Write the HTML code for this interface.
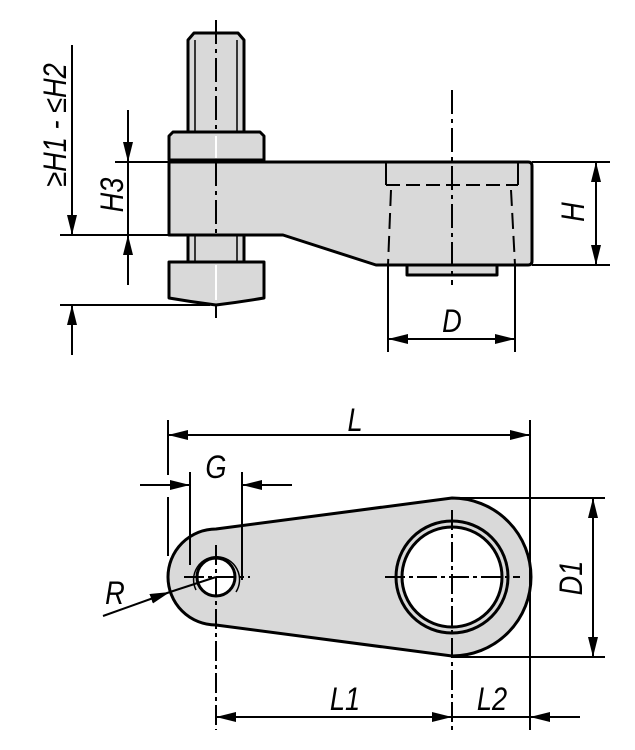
<!DOCTYPE html>
<html><head><style>body{margin:0;background:#fff}svg{display:block}text{font-family:"Liberation Sans",sans-serif;font-style:italic;font-size:32px;fill:#000}</style></head>
<body>
<svg width="635" height="750" viewBox="0 0 635 750" xmlns="http://www.w3.org/2000/svg">
<defs>
<marker id="a" viewBox="0 0 20 10" refX="20" refY="5" markerWidth="20" markerHeight="10" markerUnits="userSpaceOnUse" orient="auto"><path d="M0,0 L20,5 L0,10 Z" fill="#000"/></marker>
</defs>
<g fill="#d9d9d9" stroke="#000" stroke-width="3" stroke-linejoin="round">
<path d="M188,132 L188,40 L194,33 L238,33 L244,40 L244,132"/>
<line x1="195" y1="40" x2="195" y2="132" stroke-width="1.5"/>
<line x1="237" y1="40" x2="237" y2="132" stroke-width="1.5"/>
<rect x="188" y="235" width="56" height="27"/>
<line x1="195" y1="235" x2="195" y2="262" stroke-width="1.5"/>
<line x1="237" y1="235" x2="237" y2="262" stroke-width="1.5"/>
<path d="M169,160 L169,136 L173,132 L260,132 L264,136 L264,160 Z"/>
<path d="M169,262 L264,262 L264,298 Q240,302 216,305 Q192,302 169,298 Z"/>
<path d="M169,162 L528,162 Q532,162 532,166 L532,261 Q532,265 528,265 L376,265 L283,235 L169,235 Z"/>
<rect x="407" y="265" width="90" height="10"/>
</g>
<g stroke="#fff" stroke-width="2">
<line x1="216" y1="136" x2="216" y2="158"/>
<line x1="216" y1="265" x2="216" y2="300"/>
</g>
<g stroke="#000" fill="none" stroke-width="2">
<path d="M386,162 L386,185 M518,162 L518,185" />
<path d="M386,185 L518,185" stroke-dasharray="14,6"/>
<path d="M391,190 L388,265 M511,190 L515,265" stroke-dasharray="16,7"/>
</g>
<g stroke="#000" stroke-width="2" fill="none">
<path d="M216,20 L216,130 M216,162 L216,235 M216,305 L216,318" stroke-dasharray="24,5,4,5"/>
<path d="M452,90 L452,285" stroke-dasharray="24,5,4,5"/>
<line x1="72" y1="45" x2="72" y2="235" marker-end="url(#a)"/>
<line x1="72" y1="355" x2="72" y2="305" marker-end="url(#a)"/>
<line x1="60" y1="235" x2="169" y2="235"/>
<line x1="60" y1="305" x2="210" y2="305"/>
<line x1="128" y1="110" x2="128" y2="162" marker-end="url(#a)"/>
<line x1="128" y1="285" x2="128" y2="235" marker-end="url(#a)"/>
<line x1="128" y1="162" x2="128" y2="235"/>
<line x1="115" y1="162" x2="169" y2="162"/>
<line x1="532" y1="162" x2="610" y2="162"/>
<line x1="532" y1="265" x2="610" y2="265"/>
<line x1="596" y1="214" x2="596" y2="162" marker-end="url(#a)"/>
<line x1="596" y1="214" x2="596" y2="265" marker-end="url(#a)"/>
<line x1="388" y1="265" x2="388" y2="352"/>
<line x1="515" y1="265" x2="515" y2="352"/>
<line x1="452" y1="339" x2="388" y2="339" marker-end="url(#a)"/>
<line x1="452" y1="339" x2="515" y2="339" marker-end="url(#a)"/>
</g>
<text transform="translate(66,125) rotate(-90) scale(0.85,1)" text-anchor="middle">≥H1 - ≤H2</text>
<text transform="translate(123,195) rotate(-90) scale(0.85,1)" text-anchor="middle">H3</text>
<text transform="translate(584,212) rotate(-90) scale(0.85,1)" text-anchor="middle">H</text>
<text transform="translate(452,332) scale(0.85,1)" text-anchor="middle">D</text>

<path d="M216,529 L452,498 A79,79 0 0 1 452,656 L216,625 A48,48 0 0 1 216,529 Z" fill="#d9d9d9" stroke="#000" stroke-width="3"/>
<circle cx="216" cy="577" r="19" fill="#fff" stroke="#000" stroke-width="3"/>
<path d="M196,590 A23,23 0 1 1 236,592" fill="none" stroke="#000" stroke-width="1.5"/>
<circle cx="452" cy="577" r="56" fill="#d9d9d9" stroke="#000" stroke-width="3"/>
<circle cx="452" cy="577" r="50" fill="#fff" stroke="#000" stroke-width="3"/>
<g stroke="#000" stroke-width="2" fill="none">
<path d="M184,577 L250,577 M216,545 L216,730" stroke-dasharray="20,4,4,4"/>
<path d="M385,577 L520,577 M452,510 L452,730" stroke-dasharray="20,4,4,4"/>
<line x1="168" y1="420" x2="168" y2="475"/>
<line x1="168" y1="497" x2="168" y2="556"/>
<line x1="530" y1="420" x2="530" y2="730"/>
<line x1="350" y1="435" x2="168" y2="435" marker-end="url(#a)"/>
<line x1="350" y1="435" x2="530" y2="435" marker-end="url(#a)"/>
<line x1="190" y1="472" x2="190" y2="565"/>
<line x1="242" y1="472" x2="242" y2="580"/>
<line x1="140" y1="485" x2="190" y2="485" marker-end="url(#a)"/>
<line x1="292" y1="485" x2="242" y2="485" marker-end="url(#a)"/>
<line x1="452" y1="498" x2="605" y2="498"/>
<line x1="452" y1="657" x2="605" y2="657"/>
<line x1="593" y1="578" x2="593" y2="498" marker-end="url(#a)"/>
<line x1="593" y1="578" x2="593" y2="657" marker-end="url(#a)"/>
<line x1="103" y1="616" x2="170" y2="592" marker-end="url(#a)"/>
<line x1="170" y1="592" x2="216" y2="577"/>
<line x1="335" y1="717" x2="216" y2="717" marker-end="url(#a)"/>
<line x1="335" y1="717" x2="452" y2="717" marker-end="url(#a)"/>
<line x1="452" y1="717" x2="530" y2="717"/>
<line x1="580" y1="717" x2="530" y2="717" marker-end="url(#a)"/>
</g>
<text transform="translate(355,431) scale(0.85,1)" text-anchor="middle">L</text>
<text transform="translate(216,478) scale(0.85,1)" text-anchor="middle">G</text>
<text transform="translate(115,604) scale(0.85,1)" text-anchor="middle">R</text>
<text transform="translate(582,578) rotate(-90) scale(0.85,1)" text-anchor="middle">D1</text>
<text transform="translate(345,710) scale(0.85,1)" text-anchor="middle">L1</text>
<text transform="translate(492,710) scale(0.85,1)" text-anchor="middle">L2</text>
</svg>
</body></html>
